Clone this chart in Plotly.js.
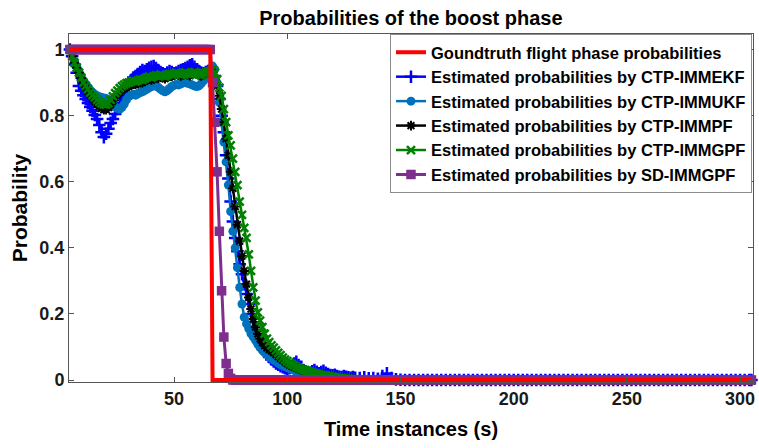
<!DOCTYPE html>
<html>
<head>
<meta charset="utf-8">
<script src="https://cdn.plot.ly/plotly-3.0.1.min.js"></script>
<style>html,body{margin:0;padding:0;background:#fff;}#chart{width:759px;height:448px;}</style>
</head>
<body>
<div id="chart"></div>
<script>
// Time instances (s): step 1 up to 130, then step 2, last 305
const timeSteps = [
  4,5,6,7,8,9,10,11,12,13,
  14,15,16,17,18,19,20,21,22,23,
  24,25,26,27,28,29,30,31,32,33,
  34,35,36,37,38,39,40,41,42,43,
  44,45,46,47,48,49,50,51,52,53,
  54,55,56,57,58,59,60,61,62,63,
  64,65,66,67,68,69,70,71,72,73,
  74,75,76,77,78,79,80,81,82,83,
  84,85,86,87,88,89,90,91,92,93,
  94,95,96,97,98,99,100,101,102,103,
  104,105,106,107,108,109,110,111,112,113,
  114,115,116,117,118,119,120,121,122,123,
  124,125,126,127,128,129,130,
  132,134,136,138,140,142,144,146,148,150,152,
  154,156,158,160,162,164,166,168,170,172,174,
  176,178,180,182,184,186,188,190,192,194,196,
  198,200,202,204,206,208,210,212,214,216,218,
  220,222,224,226,228,230,232,234,236,238,240,
  242,244,246,248,250,252,254,256,258,260,262,
  264,266,268,270,272,274,276,278,280,282,284,
  286,288,290,292,294,296,298,300,302,304,305
];

const seriesNames = [
  "Goundtruth flight phase probabilities",
  "Estimated probabilities by CTP-IMMEKF",
  "Estimated probabilities by CTP-IMMUKF",
  "Estimated probabilities by CTP-IMMPF",
  "Estimated probabilities by CTP-IMMGPF",
  "Estimated probabilities by SD-IMMGPF"
];

const groundTruth = [
  1,1,1,1,1,1,1,1,1,1,
  1,1,1,1,1,1,1,1,1,1,
  1,1,1,1,1,1,1,1,1,1,
  1,1,1,1,1,1,1,1,1,1,
  1,1,1,1,1,1,1,1,1,1,
  1,1,1,1,1,1,1,1,1,1,
  1,1,1,0,0,0,0,0,0,0,
  0,0,0,0,0,0,0,0,0,0,
  0,0,0,0,0,0,0,0,0,0,
  0,0,0,0,0,0,0,0,0,0,
  0,0,0,0,0,0,0,0,0,0,
  0,0,0,0,0,0,0,0,0,0,
  0,0,0,0,0,0,0,
  0,0,0,0,0,0,0,0,0,0,0,
  0,0,0,0,0,0,0,0,0,0,0,
  0,0,0,0,0,0,0,0,0,0,0,
  0,0,0,0,0,0,0,0,0,0,0,
  0,0,0,0,0,0,0,0,0,0,0,
  0,0,0,0,0,0,0,0,0,0,0,
  0,0,0,0,0,0,0,0,0,0,0,
  0,0,0,0,0,0,0,0,0,0,0
];

const ctpImmEkf = [
  1.0,0.98,0.955,0.93,0.89,0.875,0.862,0.85,0.838,0.826,
  0.815,0.802,0.79,0.772,0.75,0.735,0.745,0.76,0.778,0.79,
  0.805,0.82,0.838,0.855,0.87,0.885,0.897,0.908,0.915,0.92,
  0.926,0.932,0.938,0.935,0.94,0.945,0.948,0.95,0.944,0.938,
  0.932,0.928,0.925,0.93,0.935,0.932,0.928,0.93,0.935,0.938,
  0.94,0.944,0.948,0.952,0.955,0.948,0.94,0.935,0.93,0.928,
  0.932,0.935,0.935,0.94,0.92,0.89,0.85,0.80,0.75,0.68,
  0.61,0.54,0.48,0.43,0.39,0.35,0.32,0.29,0.26,0.23,
  0.20,0.175,0.15,0.13,0.115,0.10,0.09,0.08,0.07,0.062,
  0.056,0.05,0.046,0.042,0.039,0.036,0.034,0.036,0.042,0.05,
  0.055,0.045,0.036,0.03,0.026,0.024,0.022,0.026,0.03,0.025,
  0.02,0.024,0.028,0.022,0.018,0.015,0.014,0.016,0.012,0.01,
  0.009,0.012,0.01,0.008,0.007,0.009,0.007,
  0.006,0.008,0.005,0.006,0.004,0.012,0.02,0.006,0.002,0.001,0,
  0,0,0,0,0,0,0,0,0,0,0,
  0,0,0,0,0,0,0,0,0,0,0,
  0,0,0,0,0,0,0,0,0,0,0,
  0,0,0,0,0,0,0,0,0,0,0,
  0,0,0,0,0,0,0,0,0,0,0,
  0,0,0,0,0,0,0,0,0,0,0,
  0,0,0,0,0,0,0,0,0,0,0
];

const ctpImmUkf = [
  1.0,0.982,0.963,0.948,0.934,0.92,0.906,0.896,0.886,0.877,
  0.87,0.864,0.86,0.857,0.855,0.853,0.852,0.848,0.84,0.832,
  0.826,0.822,0.82,0.825,0.835,0.848,0.858,0.862,0.865,0.862,
  0.866,0.87,0.872,0.876,0.88,0.884,0.888,0.89,0.892,0.886,
  0.88,0.875,0.872,0.876,0.882,0.888,0.892,0.894,0.893,0.896,
  0.899,0.9,0.898,0.896,0.893,0.89,0.888,0.89,0.897,0.905,
  0.915,0.922,0.928,0.95,0.94,0.90,0.84,0.78,0.72,0.66,
  0.59,0.51,0.45,0.40,0.34,0.28,0.23,0.19,0.17,0.155,
  0.14,0.13,0.12,0.108,0.098,0.09,0.083,0.077,0.071,0.066,
  0.06,0.056,0.051,0.047,0.044,0.041,0.038,0.035,0.032,0.029,
  0.026,0.023,0.02,0.017,0.014,0.012,0.01,0.008,0.006,0.005,
  0.004,0.003,0.002,0.001,0,0,0,0,0,0,
  0,0,0,0,0,0,0,
  0,0,0,0,0,0,0,0,0,0,0,
  0,0,0,0,0,0,0,0,0,0,0,
  0,0,0,0,0,0,0,0,0,0,0,
  0,0,0,0,0,0,0,0,0,0,0,
  0,0,0,0,0,0,0,0,0,0,0,
  0,0,0,0,0,0,0,0,0,0,0,
  0,0,0,0,0,0,0,0,0,0,0,
  0,0,0,0,0,0,0,0,0,0,0
];

const ctpImmPf = [
  1.0,0.98,0.96,0.945,0.93,0.913,0.897,0.885,0.873,0.862,
  0.852,0.843,0.835,0.828,0.822,0.818,0.818,0.824,0.834,0.845,
  0.855,0.864,0.871,0.877,0.882,0.886,0.889,0.892,0.895,0.894,
  0.897,0.9,0.9,0.904,0.908,0.91,0.908,0.912,0.915,0.913,
  0.917,0.915,0.912,0.916,0.92,0.919,0.922,0.925,0.922,0.92,
  0.924,0.927,0.924,0.921,0.925,0.929,0.927,0.923,0.92,0.924,
  0.928,0.93,0.932,0.93,0.91,0.89,0.86,0.82,0.78,0.73,
  0.68,0.63,0.58,0.525,0.47,0.42,0.375,0.33,0.29,0.25,
  0.215,0.185,0.16,0.14,0.125,0.113,0.104,0.097,0.092,0.088,
  0.083,0.077,0.071,0.065,0.06,0.055,0.05,0.046,0.042,0.039,
  0.036,0.033,0.031,0.029,0.027,0.025,0.023,0.021,0.019,0.017,
  0.015,0.014,0.013,0.012,0.011,0.01,0.009,0.008,0.007,0.006,
  0.005,0.004,0.004,0.003,0.002,0.002,0.001,
  0.001,0.001,0,0,0,0,0,0,0,0,0,
  0,0,0,0,0,0,0,0,0,0,0,
  0,0,0,0,0,0,0,0,0,0,0,
  0,0,0,0,0,0,0,0,0,0,0,
  0,0,0,0,0,0,0,0,0,0,0,
  0,0,0,0,0,0,0,0,0,0,0,
  0,0,0,0,0,0,0,0,0,0,0,
  0,0,0,0,0,0,0,0,0,0,0
];

const ctpImmGpf = [
  1.0,0.98,0.96,0.945,0.93,0.915,0.9,0.89,0.88,0.87,
  0.862,0.855,0.848,0.842,0.837,0.834,0.833,0.838,0.848,0.858,
  0.868,0.876,0.883,0.889,0.894,0.898,0.9,0.902,0.905,0.903,
  0.906,0.909,0.908,0.912,0.916,0.918,0.915,0.919,0.922,0.92,
  0.924,0.921,0.918,0.922,0.926,0.924,0.927,0.93,0.926,0.923,
  0.928,0.931,0.927,0.924,0.928,0.932,0.929,0.925,0.922,0.926,
  0.93,0.933,0.935,0.94,0.93,0.91,0.885,0.86,0.82,0.78,
  0.74,0.71,0.67,0.63,0.59,0.54,0.50,0.46,0.43,0.38,
  0.33,0.28,0.24,0.205,0.18,0.16,0.14,0.125,0.115,0.105,
  0.098,0.09,0.082,0.075,0.068,0.062,0.057,0.052,0.048,0.044,
  0.04,0.037,0.034,0.031,0.029,0.027,0.025,0.023,0.021,0.019,
  0.017,0.015,0.014,0.013,0.012,0.011,0.01,0.009,0.008,0.007,
  0.006,0.005,0.004,0.004,0.003,0.002,0.002,
  0.001,0.001,0,0,0,0,0,0,0,0,0,
  0,0,0,0,0,0,0,0,0,0,0,
  0,0,0,0,0,0,0,0,0,0,0,
  0,0,0,0,0,0,0,0,0,0,0,
  0,0,0,0,0,0,0,0,0,0,0,
  0,0,0,0,0,0,0,0,0,0,0,
  0,0,0,0,0,0,0,0,0,0,0,
  0,0,0,0,0,0,0,0,0,0,0
];

const sdImmGpf = [
  1,1,1,1,1,1,1,1,1,1,
  1,1,1,1,1,1,1,1,1,1,
  1,1,1,1,1,1,1,1,1,1,
  1,1,1,1,1,1,1,1,1,1,
  1,1,1,1,1,1,1,1,1,1,
  1,1,1,1,1,1,1,1,1,1,
  1,1,1,0.9,0.78,0.63,0.45,0.27,0.13,0.05,
  0.02,0.005,0,0,0,0,0,0,0,0,
  0,0,0,0,0,0,0,0,0,0,
  0,0,0,0,0,0,0,0,0,0,
  0,0,0,0,0,0,0,0,0,0,
  0,0,0,0,0,0,0,0,0,0,
  0,0,0,0,0,0,0,
  0,0,0,0,0,0,0,0,0,0,0,
  0,0,0,0,0,0,0,0,0,0,0,
  0,0,0,0,0,0,0,0,0,0,0,
  0,0,0,0,0,0,0,0,0,0,0,
  0,0,0,0,0,0,0,0,0,0,0,
  0,0,0,0,0,0,0,0,0,0,0,
  0,0,0,0,0,0,0,0,0,0,0,
  0,0,0,0,0,0,0,0,0,0,0
];

const xTickVals = [50,100,150,200,250,300];
const yTickVals = [0,0.2,0.4,0.6,0.8,1];

const FONT = "Liberation Sans, Arial, sans-serif";

function trace(y, name, rank, color, lw, sym, msize, mline) {
  return {
    x: timeSteps, y: y, name: name, type: 'scatter', mode: 'lines+markers',
    legendrank: rank, cliponaxis: false,
    line: {color: color, width: lw},
    marker: {color: color, symbol: sym, size: msize, line: {color: color, width: mline}}
  };
}

const data = [
  trace(ctpImmEkf, seriesNames[1], 2, '#0000FF', 2.5, 'cross-thin-open', 9, 2.5),
  trace(ctpImmUkf, seriesNames[2], 3, '#0072BD', 2.5, 'circle', 9, 0),
  trace(ctpImmPf,  seriesNames[3], 4, '#000000', 2.5, 'asterisk-open', 8, 2),
  trace(ctpImmGpf, seriesNames[4], 5, '#008000', 2.5, 'x-thin-open', 8, 2.5),
  trace(sdImmGpf,  seriesNames[5], 6, '#7E2F8E', 3, 'square', 9.5, 0),
  {x: timeSteps, y: groundTruth, name: seriesNames[0], type: 'scatter', mode: 'lines',
   legendrank: 1, line: {color: '#FF0000', width: 4}}
];

const axisCommon = {
  showline: true, mirror: 'ticks', linecolor: '#555555', linewidth: 1,
  ticks: 'inside', ticklen: 5, tickcolor: '#555555', tickwidth: 1,
  showgrid: false, zeroline: false,
  tickfont: {family: FONT, size: 18, color: '#1a1a1a', weight: 'bold'}
};

const layout = {
  width: 759, height: 448,
  margin: {l: 69, r: 6, t: 34, b: 66},
  paper_bgcolor: '#ffffff', plot_bgcolor: '#ffffff',
  showlegend: true,
  title: {text: 'Probabilities of the boost phase', x: 0.5414, xanchor: 'center',
          y: 0.975, yanchor: 'top', yref: 'container',
          font: {family: FONT, size: 20, color: '#000000', weight: 'bold'}},
  xaxis: Object.assign({}, axisCommon, {
    range: [3.6, 305.7], tickvals: xTickVals,
    title: {text: 'Time instances (s)', standoff: 14,
            font: {family: FONT, size: 20, color: '#000000', weight: 'bold'}}
  }),
  yaxis: Object.assign({}, axisCommon, {
    range: [-0.006, 1.047], tickvals: yTickVals, ticktext: ['0','0.2','0.4','0.6','0.8','1'],
    title: {text: 'Probability', standoff: 6,
            font: {family: FONT, size: 21, color: '#000000', weight: 'bold'}}
  }),
  legend: {
    x: 0.9985, xanchor: 'right', y: 1.0, yanchor: 'top',
    bgcolor: '#ffffff', bordercolor: '#8c8c8c', borderwidth: 1,
    traceorder: 'normal', itemwidth: 30,
    font: {family: FONT, size: 16.5, color: '#000000', weight: 'bold'}
  }
};

Plotly.newPlot('chart', data, layout, {displayModeBar: false, staticPlot: true});
</script>
</body>
</html>
